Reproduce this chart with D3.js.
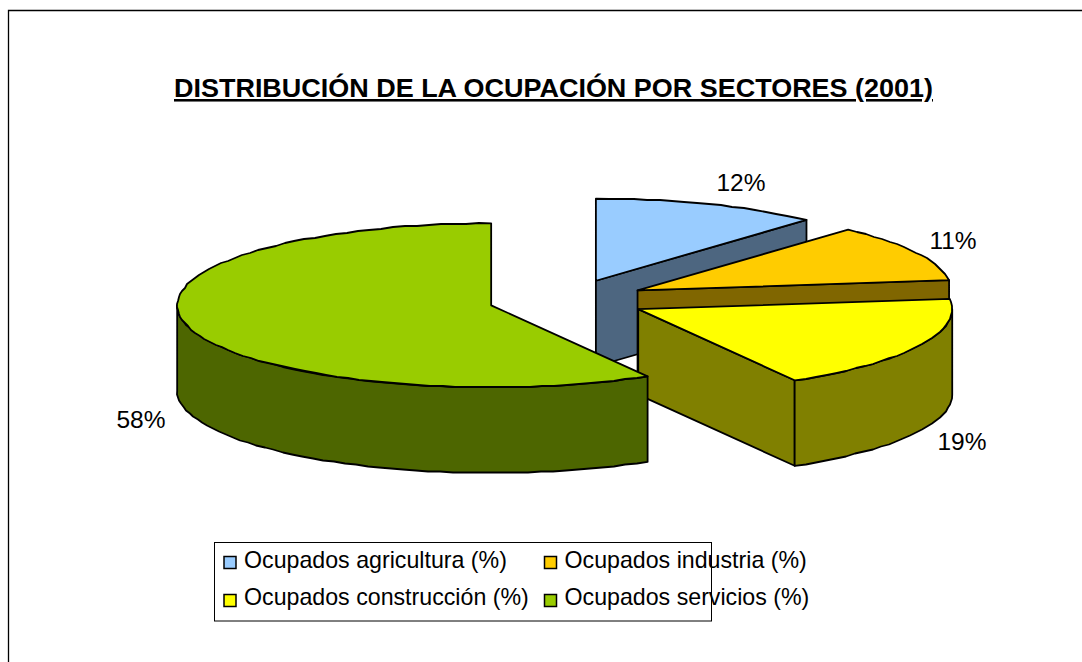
<!DOCTYPE html>
<html><head><meta charset="utf-8">
<script src="https://cdn.jsdelivr.net/npm/d3@7"></script>
<style>
html,body{margin:0;padding:0;background:#fff}
svg{display:block}
text{font-family:"Liberation Sans",Arial,sans-serif;fill:#000}
</style></head><body>
<svg id="c" width="1082" height="662"></svg>
<script>
const categories = ["Ocupados agricultura (%)","Ocupados industria (%)","Ocupados construcción (%)","Ocupados servicios (%)"];
const values = [11.7,11.3,18.7,58.3];
const topColors = ["#99ccff","#ffcc00","#ffff00","#99cc00"];
const sideColors = ["#4d6680","#806600","#808000","#4d6600"];
const titleText = "DISTRIBUCIÓN DE LA OCUPACIÓN POR SECTORES (2001)";

const svg = d3.select("#c");
svg.append("path").attr("d","M8.5,662V10.5H1082").attr("fill","none").attr("stroke","#000").attr("stroke-width",1.3);

const cx=567.5, cy=300, rx=314, ry=82, depth=85.5, explode=79;
const arcs = d3.pie().value(d=>d).sort(null)(values);
const rim=(c,a)=>[c.x+rx*Math.sin(a), c.y-ry*Math.cos(a)];
const line=d3.line();
const rimPts=(c,a0,a1,step=0.04)=>{
  const n=Math.max(1,Math.round((a1-a0)/step));
  return d3.range(n+1).map(i=>{const p=rim(c,a0+(a1-a0)*i/n);return (i===0||i===n)?p:[Math.round(p[0]),Math.round(p[1])];});
};
const g=svg.append("g").attr("stroke","#000").attr("stroke-width",1.8).attr("stroke-linejoin","round");
arcs.forEach((d,i)=>{
  const mid=(d.startAngle+d.endAngle)/2;
  const c={x:cx+explode*Math.sin(mid),y:cy-explode*(ry/rx)*Math.cos(mid)};
  const down=p=>[p[0],p[1]+depth];
  const apex=[c.x,c.y];
  const sg=g.append("g");
  [[d.startAngle,Math.sin(d.startAngle)<-1e-6],[d.endAngle,Math.sin(d.endAngle)>1e-6]].forEach(([a,vis])=>{
    if(!vis)return;
    const p=rim(c,a);
    sg.append("path").attr("d",line([apex,p,down(p),down(apex)])+"Z").attr("fill",sideColors[i]);
  });
  const a0=Math.max(d.startAngle,Math.PI/2), a1=Math.min(d.endAngle,3*Math.PI/2);
  if(a1>a0){
    const pts=rimPts(c,a0,a1);
    sg.append("path").attr("d",line(pts.concat(pts.map(down).reverse()))+"Z").attr("fill",sideColors[i]);
  }
  sg.append("path").attr("d",line([apex].concat(rimPts(c,d.startAngle,d.endAngle)))+"Z").attr("fill",topColors[i]);
});

svg.append("text").attr("x",553.5).attr("y",97).attr("text-anchor","middle")
  .attr("font-size",25.5).attr("font-weight","bold").attr("text-decoration","underline")
  .attr("textLength",759).attr("lengthAdjust","spacingAndGlyphs").text(titleText);

const labelPos=[[741,191],[953,249],[962,450],[141,428]];
svg.selectAll("text.lbl").data(values).join("text").attr("class","lbl")
  .attr("x",(d,i)=>labelPos[i][0]).attr("y",(d,i)=>labelPos[i][1])
  .attr("text-anchor","middle").attr("font-size",24.5).text(d=>Math.round(d)+"%");

svg.append("rect").attr("x",214.5).attr("y",542.5).attr("width",497).attr("height",78.5).attr("fill","#fff").attr("stroke","#000");
const lx=[224,544.5], sy=[556.5,594.5], ly=[568,604.5];
const items=svg.selectAll("g.li").data(categories).join("g").attr("class","li");
items.append("rect").attr("x",(d,i)=>lx[i%2]).attr("y",(d,i)=>sy[i>>1]).attr("width",12).attr("height",12)
  .attr("fill",(d,i)=>topColors[i]).attr("stroke","#000").attr("stroke-width",1.5);
items.append("text").attr("x",(d,i)=>lx[i%2]+20).attr("y",(d,i)=>ly[i>>1]).attr("font-size",23.2).text(d=>d);
</script></body></html>
